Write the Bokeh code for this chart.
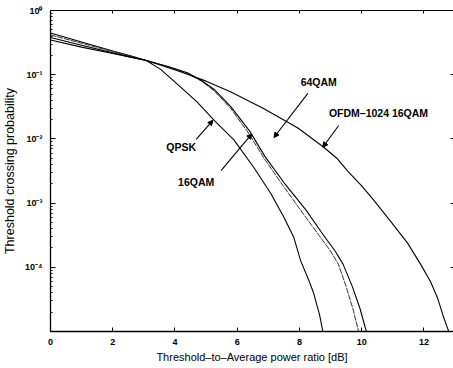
from bokeh.plotting import figure
from bokeh.models import (FixedTicker, CustomJSTickFormatter, LinearAxis, LogAxis,
                          Label, Arrow, NormalHead, Range1d)
from bokeh.embed import file_html
from bokeh.resources import INLINE

# ---- data ----
qpsk_x = [0, 1, 2, 2.6, 3.08, 3.55, 4.2, 4.7, 5.26, 5.9, 6.54, 7.08, 7.5, 7.82, 8.04, 8.3, 8.46, 8.65, 8.75]
qpsk_p = [0.447, 0.324, 0.234, 0.195, 0.166, 0.120, 0.0631, 0.0380, 0.0195, 0.00955, 0.00355,
          0.00141, 6.0e-4, 2.9e-4, 1.26e-4, 6.3e-5, 3.9e-5, 1.78e-5, 1.0e-5]

qam16_x = [0, 1, 2, 2.6, 3.08, 3.8, 4.4, 4.85, 5.26, 5.8, 6.35, 6.86, 7.4, 8.05, 8.55, 9.0,
           9.25, 9.5, 9.72, 9.9]
qam16_p = [0.417, 0.309, 0.229, 0.193, 0.166, 0.132, 0.105, 0.0795, 0.0562, 0.0295, 0.0126,
           0.00501, 0.00209, 7.6e-4, 3.55e-4, 1.78e-4, 1.12e-4, 5.0e-5, 2.24e-5, 1.0e-5]

qam64_x = [0, 1, 2, 2.6, 3.08, 3.8, 4.4, 4.85, 5.26, 5.8, 6.4, 6.9, 7.5, 8.2, 8.7, 9.15,
           9.4, 9.7, 9.95, 10.15]
qam64_p = [0.380, 0.288, 0.219, 0.188, 0.166, 0.133, 0.107, 0.0813, 0.0589, 0.0316, 0.0132,
           0.00525, 0.00209, 7.9e-4, 3.55e-4, 1.78e-4, 1.12e-4, 5.0e-5, 2.24e-5, 1.0e-5]

ofdm_x = [0, 1, 2, 2.6, 3.08, 3.6, 4.2, 5.0, 5.8, 6.86, 7.95, 8.78, 9.2, 9.55, 10.0, 10.38,
          10.93, 11.47, 11.89, 12.21, 12.44, 12.6, 12.76, 12.8]
ofdm_p = [0.347, 0.269, 0.214, 0.186, 0.166, 0.138, 0.110, 0.0794, 0.0537, 0.0295, 0.0148,
          0.00741, 0.0050, 0.00316, 0.00186, 0.00112, 5.2e-4, 2.4e-4, 1.12e-4, 6.0e-5,
          3.3e-5, 1.86e-5, 1.12e-5, 1.0e-5]

x_ticks = [0, 2, 4, 6, 8, 10, 12]
y_ticks = [1e-5, 1e-4, 1e-3, 1e-2, 1e-1, 1]

# annotations: text, label position, arrow start, arrow end
ann_text = ["64QAM", "OFDM\u20131024 16QAM", "QPSK", "16QAM"]
ann_lx = [8.62, 10.54, 4.2, 4.68]
ann_ly = [0.0783, 0.0257, 0.0076, 0.0021]
arr_x0 = [8.27, 9.26, 4.68, 5.48]
arr_y0 = [0.0513, 0.0162, 0.0098, 0.0032]
arr_x1 = [7.18, 8.75, 5.22, 6.47]
arr_y1 = [0.0105, 0.0074, 0.0195, 0.0120]

x_title = "Threshold\u2013to\u2013Average power ratio [dB]"
y_title = "Threshold crossing probability"

FONT = "Liberation Sans"

p = figure(width=453, height=368, y_axis_type="log",
           x_range=Range1d(0, 12.95), y_range=Range1d(1e-5, 1),
           output_backend="svg", toolbar_location=None,
           min_border_left=49, min_border_right=0, min_border_top=10, min_border_bottom=37)
p.outline_line_color = None
p.xgrid.grid_line_color = None
p.ygrid.grid_line_color = None
p.background_fill_color = "white"
p.border_fill_color = "white"

p.line(qpsk_x, qpsk_p, line_color="black", line_width=1.1)
p.line(qam16_x, qam16_p, line_color="#333333", line_width=1.0, line_dash="6 1")
p.line(qam64_x, qam64_p, line_color="black", line_width=1.1)
p.line(ofdm_x, ofdm_p, line_color="black", line_width=1.1)

minor = [k * 10.0 ** e for e in range(-5, 0) for k in range(2, 10)]

# left axis
ya = p.yaxis[0]
ya.ticker = FixedTicker(ticks=y_ticks, minor_ticks=minor)
ya.formatter = CustomJSTickFormatter(code="""
const e = Math.round(Math.log10(tick));
if (e <= -5) return "";
const sup = {"-":"\u207b","0":"\u2070","1":"\u00b9","2":"\u00b2","3":"\u00b3","4":"\u2074","5":"\u2075"};
let s = String(e).split("").map(c => sup[c]).join("");
return "10" + s;
""")
ya.major_tick_in = 5
ya.major_tick_out = 0
ya.minor_tick_in = 2
ya.minor_tick_out = 0
ya.axis_line_width = 1.3
ya.major_label_text_font = FONT
ya.major_label_text_font_style = "bold"
ya.major_label_text_font_size = "9px"
ya.major_label_text_color = "black"
ya.major_label_standoff = 8
ya.axis_label = y_title
ya.axis_label_text_font = FONT
ya.axis_label_text_font_style = "normal"
ya.axis_label_text_font_size = "12.5px"
ya.axis_label_text_color = "black"
ya.axis_label_standoff = 5

# bottom axis
xa = p.xaxis[0]
xa.ticker = FixedTicker(ticks=x_ticks)
xa.major_tick_in = 4
xa.major_tick_out = 0
xa.minor_tick_line_color = None
xa.axis_line_width = 1.3
xa.major_label_text_font = FONT
xa.major_label_text_font_style = "bold"
xa.major_label_text_font_size = "9px"
xa.major_label_text_color = "black"
xa.major_label_standoff = 7
xa.axis_label = x_title
xa.axis_label_text_font = FONT
xa.axis_label_text_font_style = "normal"
xa.axis_label_text_font_size = "11px"
xa.axis_label_text_color = "black"
xa.axis_label_standoff = 3

# top axis: frame line with inward ticks
ta = LinearAxis(ticker=FixedTicker(ticks=x_ticks), major_tick_in=3,
                major_tick_out=0, minor_tick_line_color=None, major_label_standoff=0,
                major_label_text_color=None, major_label_text_font_size="6px",
                axis_line_color="black", axis_line_width=1.2)
p.add_layout(ta, "above")

# right axis: inward ticks only (the right frame edge is cut off in the reference)
ra = LogAxis(ticker=FixedTicker(ticks=y_ticks[1:-1]), major_tick_in=3,
             major_tick_out=0, minor_tick_line_color=None, major_label_standoff=0,
             major_label_text_color=None, major_label_text_font_size="6px",
             axis_line_color=None)
p.add_layout(ra, "right")

for t, lx, ly, x0, y0, x1, y1 in zip(ann_text, ann_lx, ann_ly, arr_x0, arr_y0, arr_x1, arr_y1):
    p.add_layout(Label(x=lx, y=ly, text=t, text_align="center", text_baseline="middle",
                       text_font=FONT, text_font_style="bold", text_font_size="10.5px",
                       text_color="black"))
    p.add_layout(Arrow(x_start=x0, y_start=y0, x_end=x1, y_end=y1, line_width=1.1,
                       line_color="black",
                       end=NormalHead(size=5, fill_color="black", line_color="black", line_width=1)))

open("out.html", "w").write(file_html(p, INLINE))
